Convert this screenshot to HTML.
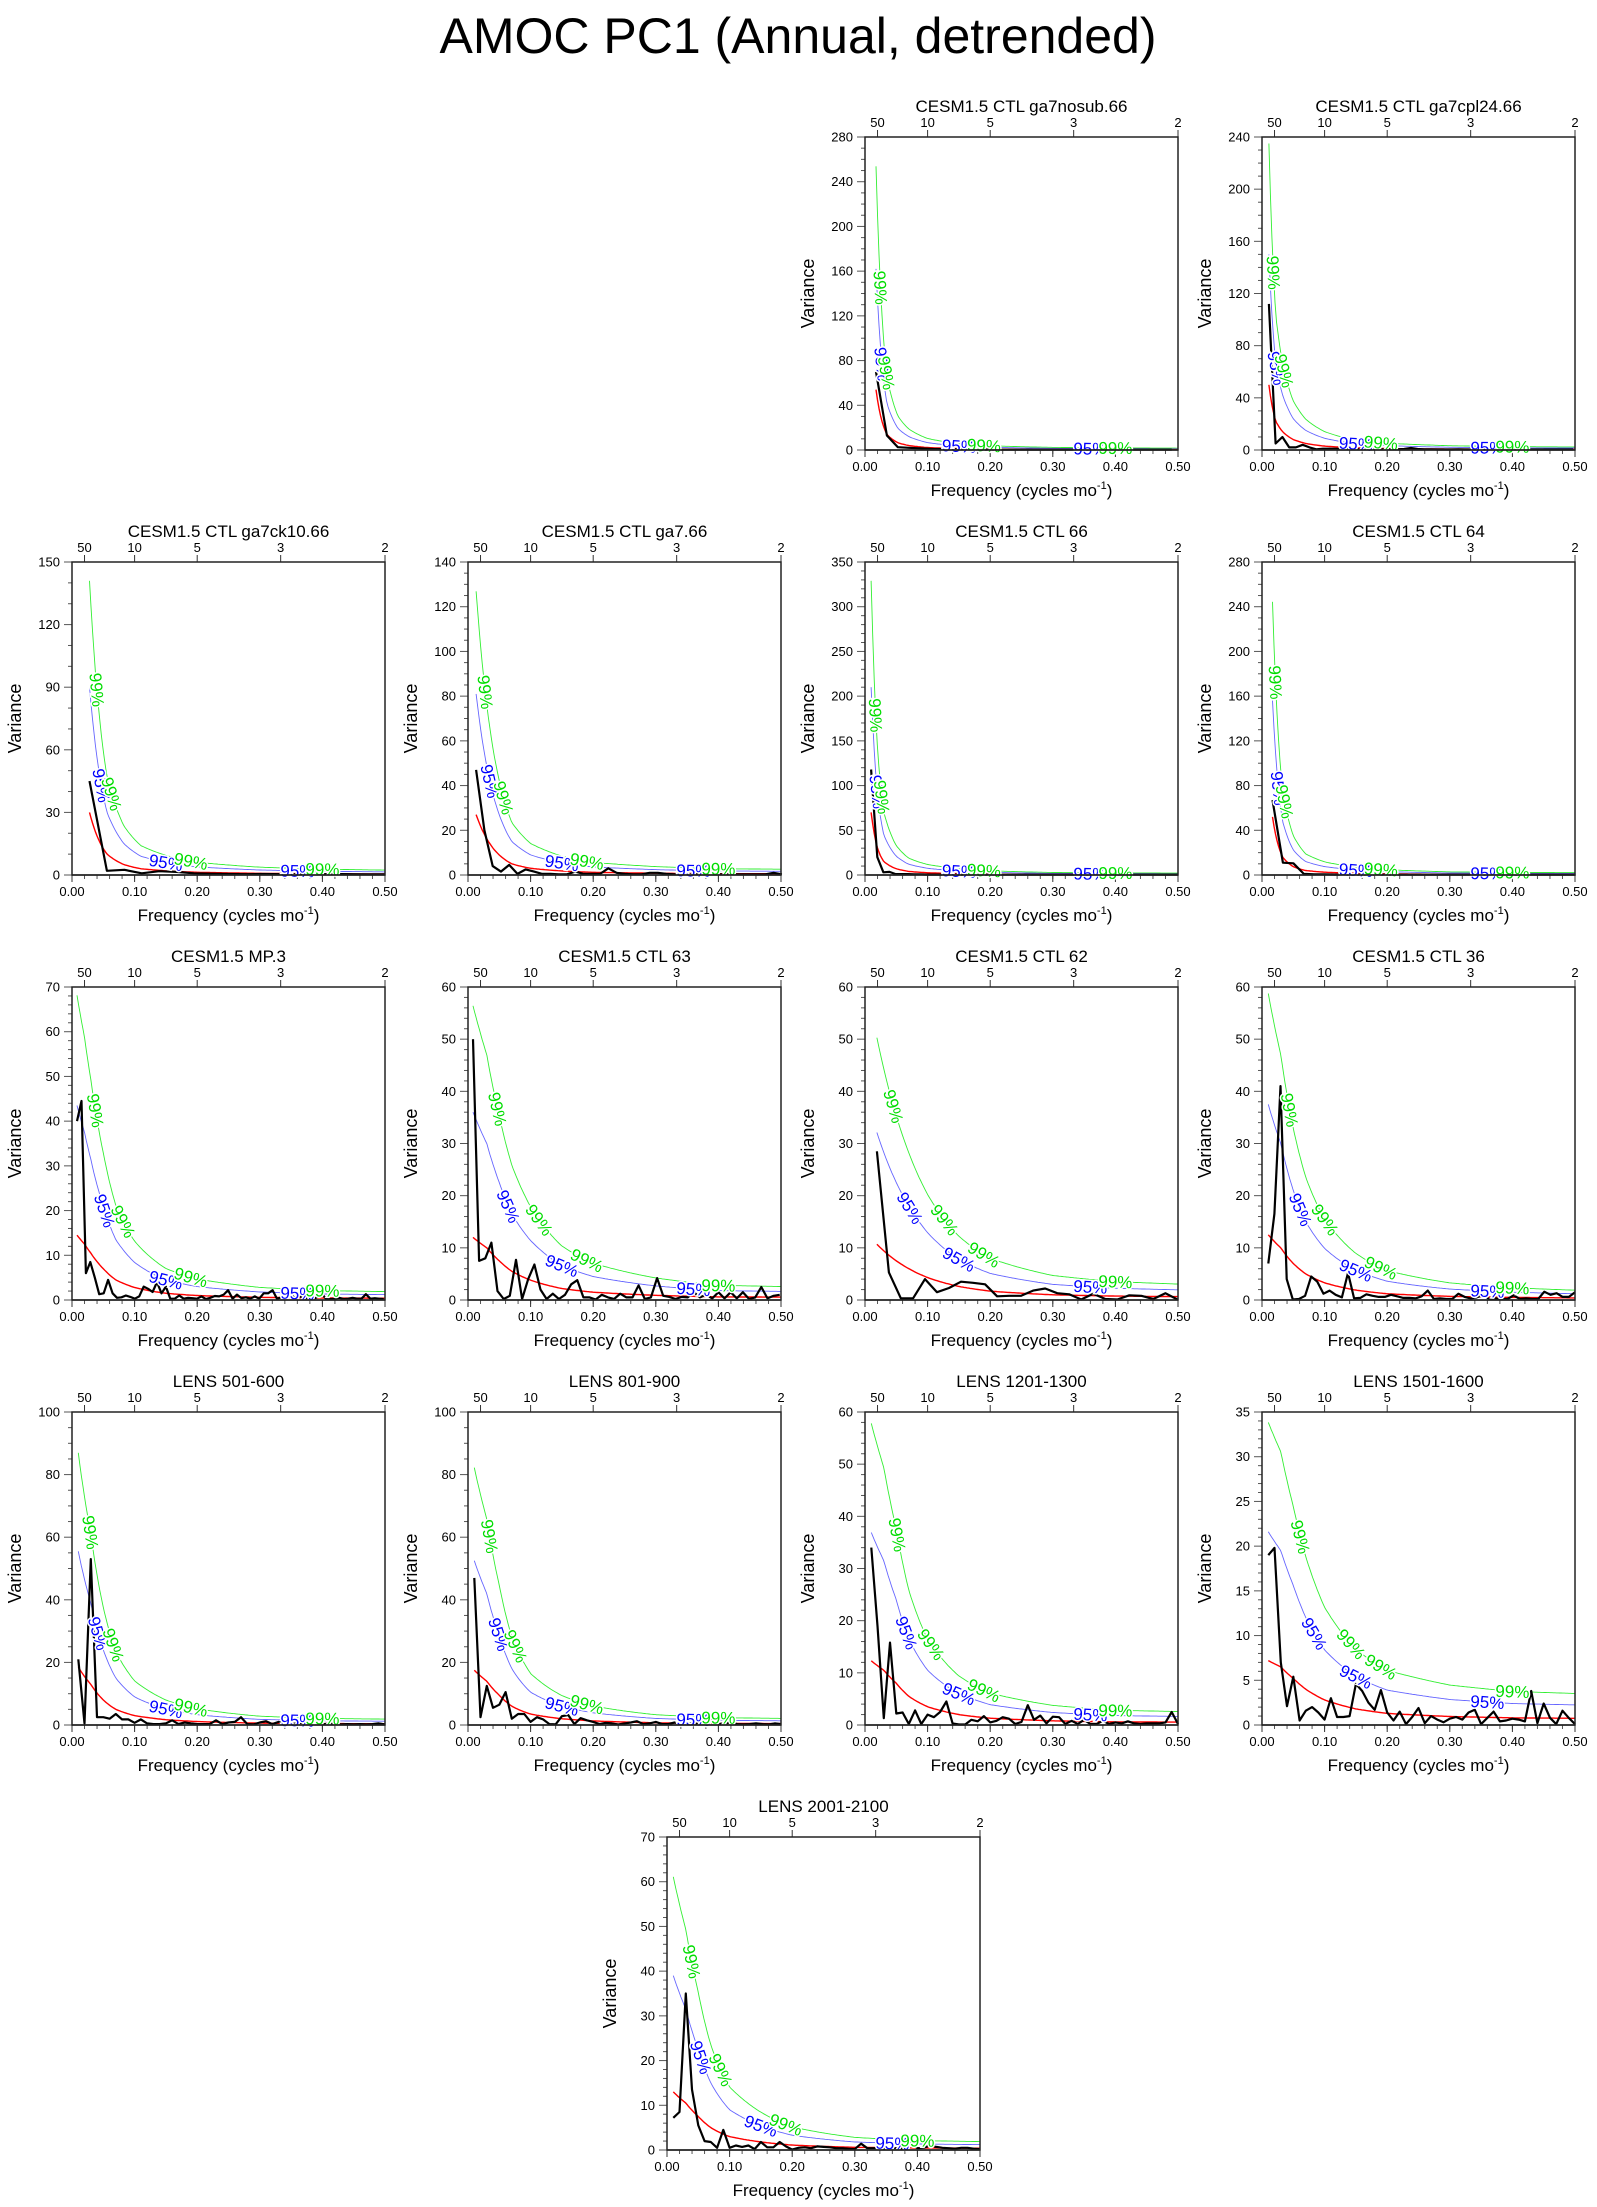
<!DOCTYPE html>
<html><head><meta charset="utf-8"><title>AMOC PC1 (Annual, detrended)</title>
<style>
html,body{margin:0;padding:0;background:#fff;}
svg{display:block;font-family:"Liberation Sans",Arial,sans-serif;}
</style></head>
<body>
<svg id="fig" width="1597" height="2207" viewBox="0 0 1597 2207" xmlns="http://www.w3.org/2000/svg">
<rect width="1597" height="2207" fill="#fff"/>
<text x="798" y="53" font-size="50" text-anchor="middle" fill="#000">AMOC PC1 (Annual, detrended)</text>
</svg>
<script>
// ---- data ----
const panelTitles = ["CESM1.5 CTL ga7nosub.66","CESM1.5 CTL ga7cpl24.66","CESM1.5 CTL ga7ck10.66","CESM1.5 CTL ga7.66","CESM1.5 CTL 66","CESM1.5 CTL 64","CESM1.5 MP.3","CESM1.5 CTL 63","CESM1.5 CTL 62","CESM1.5 CTL 36","LENS 501-600","LENS 801-900","LENS 1201-1300","LENS 1501-1600","LENS 2001-2100"];
const yMaxes = [280,240,150,140,350,280,70,60,60,60,100,100,60,35,70];
const ySteps = [40,40,30,20,50,40,10,10,10,10,20,20,10,5,10];
const freqStart = [0.0175,0.011,0.028,0.013,0.0098,0.0167,0.008,0.008,0.019,0.01,0.01,0.01,0.01,0.01,0.01];
const freqStep = [0.0175,0.0108,0.0278,0.0132,0.0098,0.0167,0.0071,0.0098,0.0192,0.0098,0.01,0.01,0.01,0.01,0.01];
const spectra = [
 [70,13,2.5,2,1.5,1,0.8,0.6,0.5,0.4,0.4,0.3,0.3,0.3,0.3,0.3,0.3,0.3,0.3,0.3,0.3,0.3,0.3,0.3,0.3,0.3,0.3,0.3],
 [112,5,10,2,2,4,2,0.5,1,1,1,0.8,0.6,0.5,0.5,0.5,0.5,0.5,0.5,0.5,0.8,1.5,0.8,0.5,0.5,0.4,0.4,0.4,0.5,0.4,0.4,0.4,0.4,0.8,0.4,0.4,0.4,0.4,0.4,0.4,0.4,0.4,0.4,0.4,0.4,0.4],
 [45,2,2.5,0.8,1.8,1.5,0.8,0.6,0.5,0.4,0.5,0.4,0.3,0.3,0.5,0.4,0.3,0.3],
 [47,20,4,1.5,4.5,0.5,2.5,1.5,0.5,0.5,0.3,0.3,1.5,0.5,0.5,0.5,3,1,0.5,0.3,0.3,1,1,0.5,0.3,0.5,0.3,0.3,0.3,0.3,0.3,0.3,0.3,0.3,0.3,0.3,1,0.3],
 [118,20,3,3.5,1,1,1,0.8,0.8,0.5,0.4,0.4,0.3,0.3,0.3,0.3,0.3,0.3,0.3,0.3,0.3,0.3,0.3,0.3,0.3,0.3,0.3,0.3,0.3,0.3,0.3,0.3,0.3,0.3,0.3,0.3,0.3,0.3,0.3,0.3,0.3,0.3,0.3,0.3,0.3,0.3,0.3,0.3,0.3,0.3,0.3],
 [67,11,10.5,1,0.5,0.5,0.4,0.4,0.3,0.3,0.3,0.3,0.3,0.3,0.3,0.3,0.3,0.3,0.3,0.3,0.3,0.3,0.3,0.3,0.3,0.3,0.3,0.3,0.3,0.3],
 [40,44.5,6,8.5,5,1.3,1.5,4.5,1.5,0.5,0.6,1.0,0.7,0.3,0.8,3,2.5,1.8,4,1.5,3,0.3,0.3,1,0.3,0.5,0.4,0.3,0.8,0.2,0.5,0.9,0.8,1.2,2.2,0.3,1.2,0.4,0.6,0.3,0.8,0.3,1.5,1.5,2.2,0.3,0.6,1,1.5,0.4,1,0.3,0.5,0.2,0.6,1.5,0.3,0.2,0.3,0.5,0.2,0.3,0.5,0.3,0.3,1.3,0.3,0.4,0.3,0.2],
 [50,7.5,8,11,1.7,0.2,0.8,7.7,0.2,4,6.8,2,0.2,1.2,0.2,1,3,3.8,0.5,0.5,0.1,1,0.5,0.2,1.2,0.5,0.5,2.8,0.2,0.5,4.2,0.8,0.6,0.2,0.6,0.5,1.5,0.5,1,0.3,1.5,0.3,1.5,0.3,1.5,0.2,0.5,2.5,0.3,0.8,1],
 [28.5,5.3,0.3,0.3,4,1.5,2.3,3.5,3.3,3,0.7,0.8,0.8,1.8,2.2,1.3,1.1,0.1,1.2,0.2,0.1,0.9,0.8,0.2,1.3,0.1],
 [7,16.5,41,4,0.1,0.2,0.8,4.5,3.5,1.2,1.8,1,0.5,5.2,0.3,0.4,1.1,0.8,0.6,0.6,1,0.7,0.4,0.4,0.3,0.7,1.8,0.2,0.3,0.2,0.2,1.2,0.6,0.3,0.5,1,0.2,0.3,0.2,0.2,0.9,0.2,0.3,0.2,0.2,1.6,1,1.3,0.6,0.6,1.5],
 [21,0.5,53,2.5,2.5,2,3.5,1.8,1.8,0.7,1.8,0.5,0.3,0.3,0.5,1.5,0.3,0.8,0.5,0.3,0.3,0.3,1.5,0.3,0.8,1,2.5,0.3,0.2,0.8,1.2,0.3,1,0.2,0.3,0.5,0.8,0.3,0.3,0.2,0.5,0.3,0.2,0.3,0.2,0.3,0.2,0.3,0.5,0.2],
 [47,2.5,12.5,5.5,6.5,10.5,2,3.5,3.5,1,2.5,1.8,0.3,0.2,2.8,3.2,0.3,2.2,1.5,1,0.3,0.7,0.5,0.2,0.5,0.8,1.2,0.3,0.5,1,0.3,0.3,0.8,0.2,0.3,0.5,0.3,1.3,1.5,0.3,0.5,0.8,0.3,0.2,0.3,0.5,0.3,0.2,0.5,0.3],
 [34,19,1.3,15.8,2.2,2.4,0.2,2.8,0.2,2,1.5,2.5,4.5,0.3,0.1,0.1,1,0.7,1.7,0.5,0.8,1.5,1.2,0.2,0.6,3.8,1,1.8,0.3,1.6,1.5,0.2,0.8,0.2,1,0.2,0.2,0.8,0.2,0.5,0.3,0.7,0.3,0.2,0.3,0.3,0.3,0.5,2.5,0.2],
 [19,19.8,7,2.1,5.4,0.5,1.6,2,1.4,0.6,3,0.9,0.9,1,4.6,3.8,2.5,1.7,3.9,1.4,0.5,1.5,0.1,0.9,1.9,0.2,1,0.6,0.3,0.7,0.9,0.6,1.4,1.7,0.1,0.8,1.5,0.4,0.5,0.7,0.6,0.4,3.8,0.2,2.4,0.8,0.1,1.6,0.8,0.1],
 [7.2,8.5,35,13.5,5.5,2,1.8,0.5,4.5,0.5,1,0.7,1,0.2,1.8,0.6,0.6,1.8,0.8,0.1,0.5,0.6,0.4,0.8,0.7,0.6,0.4,0.4,0.3,0.2,1.4,0.4,0.4,0.4,0.3,0.5,0.3,0.3,1.8,0.4,0.5,1,0.7,0.5,0.4,0.3,0.5,0.5,0.3,0.2]
];
const redFreqs = [
 [0.0175,0.035,0.0525,0.07,0.1,0.15,0.2,0.3,0.4,0.5],
 [0.011,0.022,0.033,0.05,0.07,0.1,0.15,0.2,0.3,0.4,0.5],
 [0.028,0.056,0.083,0.11,0.15,0.2,0.3,0.4,0.5],
 [0.013,0.04,0.07,0.1,0.15,0.2,0.3,0.4,0.5],
 [0.0098,0.02,0.03,0.05,0.07,0.1,0.15,0.2,0.3,0.4,0.5],
 [0.0167,0.033,0.05,0.07,0.1,0.15,0.2,0.3,0.4,0.5],
 [0.008,0.02,0.03,0.05,0.07,0.1,0.15,0.2,0.3,0.4,0.5],
 [0.008,0.03,0.05,0.07,0.1,0.15,0.2,0.3,0.4,0.5],
 [0.019,0.05,0.1,0.15,0.2,0.3,0.4,0.5],
 [0.01,0.03,0.05,0.07,0.1,0.15,0.2,0.3,0.4,0.5],
 [0.01,0.03,0.05,0.07,0.1,0.15,0.2,0.3,0.4,0.5],
 [0.01,0.03,0.05,0.07,0.1,0.15,0.2,0.3,0.4,0.5],
 [0.01,0.03,0.05,0.07,0.1,0.15,0.2,0.3,0.4,0.5],
 [0.01,0.03,0.05,0.07,0.1,0.15,0.2,0.3,0.4,0.5],
 [0.01,0.03,0.05,0.07,0.1,0.15,0.2,0.3,0.4,0.5]
];
const redValues = [
 [54,14,6.5,4,2.2,1.2,0.8,0.5,0.4,0.35],
 [50,22,14,8,5,3,1.6,1.1,0.7,0.55,0.5],
 [30,10,5,3,2,1.3,0.8,0.6,0.5],
 [27,12,5,3,1.8,1.2,0.8,0.6,0.55],
 [70,30,15,7,4,2.5,1.5,1,0.6,0.5,0.45],
 [52,16,7.5,4,2.5,1.5,1,0.6,0.5,0.45],
 [14.5,12.5,10.5,7,4.5,2.8,1.5,1.0,0.6,0.45,0.4],
 [12,10,7.5,5.5,3.8,2.2,1.5,0.9,0.6,0.55],
 [10.7,7.5,4.3,2.6,1.7,1.0,0.75,0.65],
 [12.5,10,7,5,3.3,1.9,1.2,0.7,0.5,0.4],
 [18.5,13,8,5,3,1.7,1.1,0.6,0.45,0.4],
 [17.5,14,9.5,6,3.5,2,1.3,0.7,0.5,0.45],
 [12.3,10.5,8,5.5,3.5,2,1.3,0.8,0.6,0.55],
 [7.2,6.5,5.2,4,2.8,1.8,1.3,0.95,0.8,0.75],
 [13,10.5,7.5,5,3,1.8,1.1,0.6,0.45,0.4]
];
const conf95Factor = 3.0;
const conf99Factor = 4.7;
const xTicks = [0,0.1,0.2,0.3,0.4,0.5];
const xTickLabels = ["0.00","0.10","0.20","0.30","0.40","0.50"];
const periodTicks = [50,10,5,3,2];
// ---- layout ----
const W = 313, H = 313;
const colL = [72,468,865,1262];
const rowT = [137,562,987,1412,1837];
const positions = [[2,0],[3,0],[0,1],[1,1],[2,1],[3,1],[0,2],[1,2],[2,2],[3,2],[0,3],[1,3],[2,3],[3,3],[-1,4]];
const svg = document.getElementById('fig');
const NS = 'http://www.w3.org/2000/svg';
function mk(tag, attrs, parent){ const e=document.createElementNS(NS,tag); for(const k in attrs) e.setAttribute(k,attrs[k]); (parent||svg).appendChild(e); return e; }
function interp(rf, rv, f){
  if(f<=rf[0]) return rv[0];
  for(let i=1;i<rf.length;i++){ if(f<=rf[i]){ const t=(f-rf[i-1])/(rf[i]-rf[i-1]); return Math.exp(Math.log(rv[i-1])*(1-t)+Math.log(rv[i])*t);} }
  return rv[rv.length-1];
}
panelTitles.forEach((title,p)=>{
  const [c,r] = positions[p];
  const L = c<0 ? 667 : colL[c], T = rowT[r];
  const ymax = yMaxes[p], ystep = ySteps[p];
  const X = f => L + f/0.5*W;
  const Y = v => T + H - Math.min(v,ymax)/ymax*H;
  const g = mk('g',{});
  
  
  const t = mk('text',{x:L+W/2,y:T-25,'font-size':17,'text-anchor':'middle'},g); t.textContent=title;
   
  const minorDiv = {5:5,10:5,20:4,30:3,40:4,50:5}[ystep]||4;
  for(let v=0; v<=ymax+1e-9; v+=ystep/minorDiv){
    const major = Math.abs(v/ystep-Math.round(v/ystep))<1e-6;
    mk('line',{x1:L-(major?8:4),x2:L,y1:Y(v),y2:Y(v),stroke:'#555','stroke-width':1},g);
  }
  for(let v=0; v<=ymax+1e-9; v+=ystep){
    const tl = mk('text',{x:L-12,y:Y(v)+4.5,'font-size':13,'text-anchor':'end'},g); tl.textContent=String(v);
     
  }
  for(let f=0; f<=0.5001; f+=0.02){ mk('line',{x1:X(f),x2:X(f),y1:T+H,y2:T+H+4,stroke:'#555','stroke-width':1},g); }
  xTicks.forEach((f,i)=>{
    mk('line',{x1:X(f),x2:X(f),y1:T+H,y2:T+H+7,stroke:'#333','stroke-width':1},g);
    const tl = mk('text',{x:X(f),y:T+H+21,'font-size':13,'text-anchor':'middle'},g); tl.textContent=xTickLabels[i];
     
  });
  periodTicks.forEach(pd=>{
    const f=1/pd;
    mk('line',{x1:X(f),x2:X(f),y1:T-7,y2:T,stroke:'#333','stroke-width':1},g);
    const tl = mk('text',{x:X(f),y:T-10,'font-size':13,'text-anchor':'middle'},g); tl.textContent=String(pd);
     
  });
  const xt = mk('text',{x:L+W/2,y:T+H+46,'font-size':17,'text-anchor':'middle'},g);
  xt.innerHTML='Frequency (cycles mo<tspan dy="-7" font-size="11">-1</tspan><tspan dy="7">)</tspan>';
   
  const yt = mk('text',{x:0,y:0,'font-size':18,'text-anchor':'middle',transform:`translate(${L-51},${T+H/2}) rotate(-90)`},g);
  yt.textContent='Variance';
   
  const rf = redFreqs[p], rv = redValues[p];
  const fs=[]; for(let i=0;i<=200;i++){ fs.push(rf[0]+(0.5-rf[0])*i/200); }
  const curve = k => fs.map(f=>[X(f),Y(interp(rf,rv,f)*k)]);
  const toPath = pts => pts.map((q,i)=>(i?'L':'M')+q[0].toFixed(1)+','+q[1].toFixed(1)).join('');
  const cg = mk('path',{d:toPath(curve(conf99Factor)),fill:'none',stroke:'#33ee33','stroke-width':0.9},g);
   
  const cb = mk('path',{d:toPath(curve(conf95Factor)),fill:'none',stroke:'#6666ff','stroke-width':0.9},g);
   
  const cr = mk('path',{d:toPath(curve(1)),fill:'none',stroke:'#ff0000','stroke-width':1.4},g);
   
  const sp = spectra[p];
  const pts = sp.map((v,i)=>[X(freqStart[p]+i*freqStep[p]),Y(v)]);
  const bl = mk('path',{d:toPath(pts),fill:'none',stroke:'#000','stroke-width':2.2,'stroke-linejoin':'round'},g);
   
  function labelAt(k, f, text, color){
    const v=interp(rf,rv,f)*k, x=X(f), y=Y(v);
    const x2=X(f+0.003), y2=Y(interp(rf,rv,f+0.003)*k);
    let ang=Math.atan2(y2-y,x2-x)*180/Math.PI;
    const lt = mk('text',{x:0,y:6,'font-size':17,'text-anchor':'middle',fill:color,stroke:'#fff','stroke-width':3,'paint-order':'stroke',transform:`translate(${x.toFixed(1)},${y.toFixed(1)}) rotate(${ang.toFixed(1)})`},g);
    lt.textContent=text;
     
  }
  function crossing(k, level){
    for(let i=0;i<fs.length;i++){ if(interp(rf,rv,fs[i])*k<=level) return fs[i]; }
    return 0.1;
  }
  labelAt(conf99Factor, crossing(conf99Factor,0.62*ymax),'99%','#00dd00');
  labelAt(conf95Factor, crossing(conf95Factor,0.3*ymax),'95%','#0000ff');
  labelAt(conf99Factor, crossing(conf99Factor,0.26*ymax),'99%','#00dd00');
  labelAt(conf95Factor, 0.15,'95%','#0000ff');
  labelAt(conf99Factor, 0.19,'99%','#00dd00');
  labelAt(conf95Factor, 0.36,'95%','#0000ff');
  labelAt(conf99Factor, 0.40,'99%','#00dd00');
  mk('line',{x1:L,x2:L+W,y1:T+H,y2:T+H,stroke:'#222','stroke-width':1.5},g);
  const fr = mk('rect',{x:L,y:T,width:W,height:H,fill:'none',stroke:'#222','stroke-width':1.5},g);
   
});
</script>
</body></html>
